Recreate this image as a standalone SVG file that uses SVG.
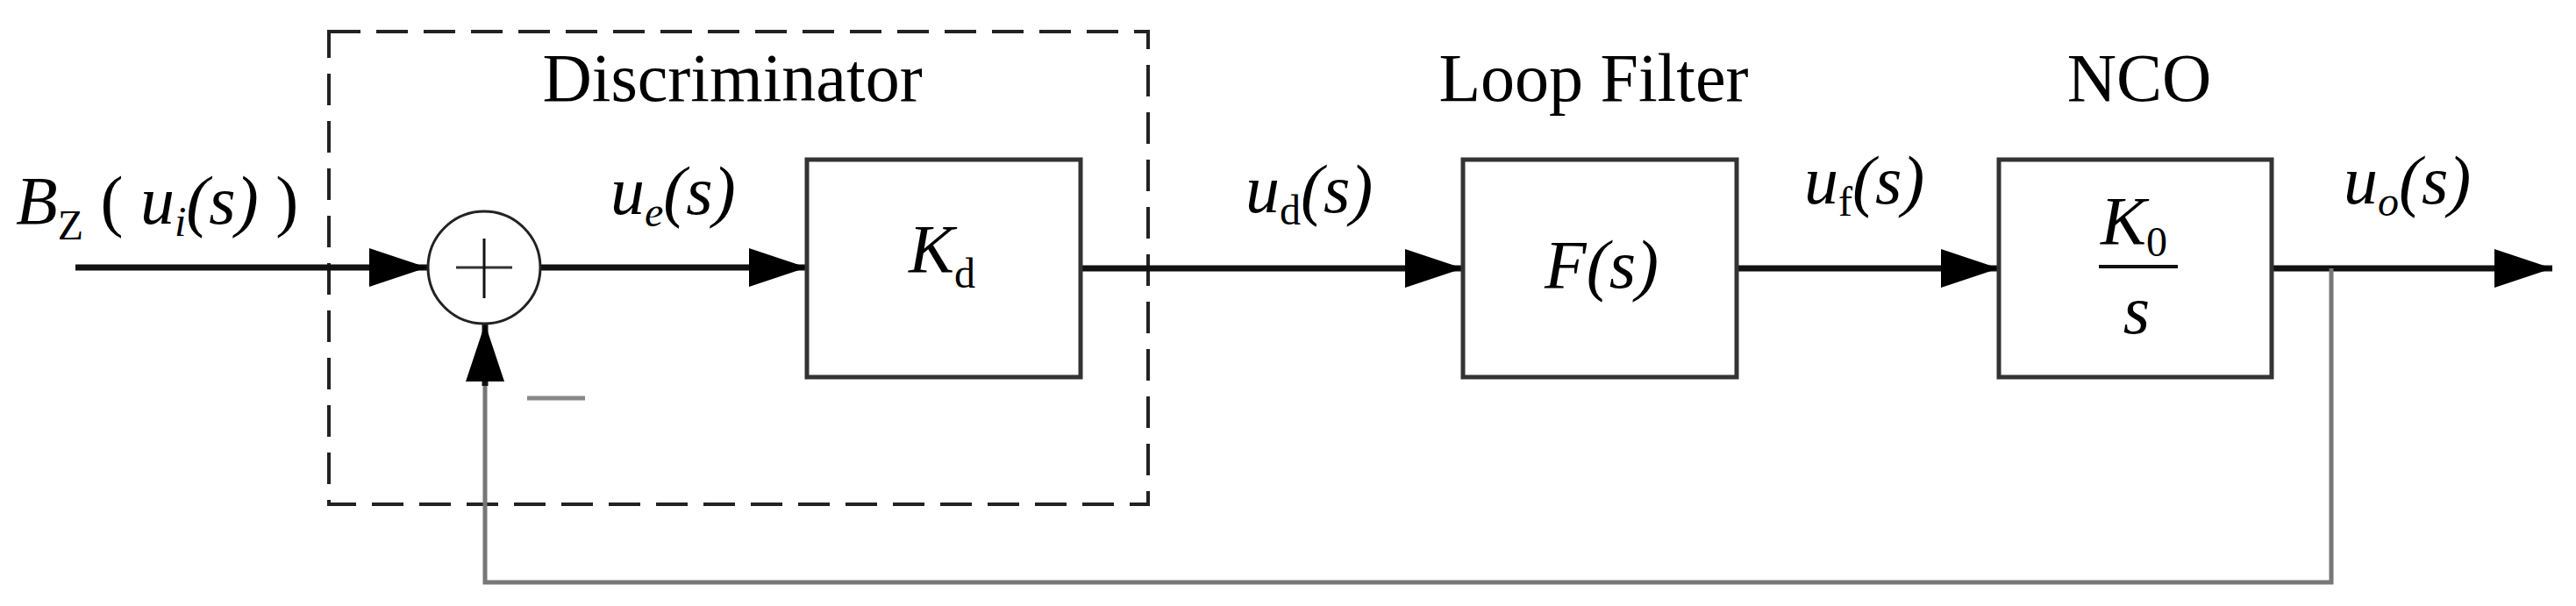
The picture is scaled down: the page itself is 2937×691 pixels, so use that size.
<svg xmlns="http://www.w3.org/2000/svg" width="2937" height="691" viewBox="0 0 2937 691">
<style>
.t{font-family:"Liberation Serif",serif;font-size:78px;fill:#000}
.i{font-style:italic}
.s{font-size:48px}
.box{fill:#fff;stroke:#333;stroke-width:5}
.ln{stroke:#111;stroke-width:7;fill:none}
.fb{stroke:#777;stroke-width:5;fill:none}
</style>
<defs>
<marker id="a" markerWidth="66" markerHeight="44" refX="66" refY="22" markerUnits="userSpaceOnUse" orient="auto"><path d="M0,0 L66,22 L0,44 Z" fill="#000"/></marker>
</defs>
<rect x="375" y="36" width="934" height="539" fill="none" stroke="#222" stroke-width="4" stroke-dasharray="36,18"/>
<text class="t" x="835" y="115" text-anchor="middle" font-size="72">Discriminator</text>
<text class="t" x="1817" y="115" text-anchor="middle" font-size="72">Loop Filter</text>
<text class="t" x="2439" y="115" text-anchor="middle" font-size="72">NCO</text>
<g id="connectors">
<line class="ln" x1="86" y1="305" x2="487" y2="305" marker-end="url(#a)"/>
<line class="ln" x1="616" y1="305" x2="920" y2="305" marker-end="url(#a)"/>
<line class="ln" x1="1232" y1="306" x2="1668" y2="306" marker-end="url(#a)"/>
<line class="ln" x1="1980" y1="306" x2="2279" y2="306" marker-end="url(#a)"/>
<line class="ln" x1="2590" y1="306" x2="2910" y2="306" marker-end="url(#a)"/>
<polyline class="fb" points="2658,306 2658,664 553,664 553,440"/>
<line class="ln" x1="553" y1="440" x2="553" y2="369" marker-end="url(#a)"/>
</g>
<g id="sum">
<circle cx="552" cy="305" r="64" fill="#fff" stroke="#222" stroke-width="3"/>
<line x1="520" y1="305" x2="584" y2="305" stroke="#333" stroke-width="3"/>
<line x1="552" y1="272" x2="552" y2="340" stroke="#111" stroke-width="3"/>
<line x1="601" y1="454" x2="667" y2="454" stroke="#888" stroke-width="5"/>
</g>
<g id="kd"><rect class="box" x="920" y="182" width="312" height="248"/>
<text class="t" x="1036" y="310"><tspan class="i">K</tspan><tspan class="s" dy="18">d</tspan></text></g>
<g id="fs"><rect class="box" x="1668" y="182" width="312" height="248"/>
<text class="t i" x="1826" y="328" text-anchor="middle">F(s)</text></g>
<g id="nco"><rect class="box" x="2279" y="182" width="311" height="248"/>
<text class="t" x="2395" y="278"><tspan class="i">K</tspan><tspan class="s" dy="14">0</tspan></text>
<line x1="2393" y1="304" x2="2483" y2="304" stroke="#111" stroke-width="4"/>
<text class="t i" x="2436" y="380" text-anchor="middle">s</text></g>
<g id="labels">
<text class="t" x="18" y="255"><tspan class="i">B</tspan><tspan class="s" dy="18">Z</tspan><tspan dy="-18"> ( </tspan><tspan class="i">u</tspan><tspan class="s i" dy="14">i</tspan><tspan class="i" dy="-14">(s)</tspan><tspan> )</tspan></text>
<text class="t" x="696" y="244"><tspan class="i">u</tspan><tspan class="s i" dy="14">e</tspan><tspan class="i" dy="-14">(s)</tspan></text>
<text class="t" x="1420" y="242"><tspan class="i">u</tspan><tspan class="s" dy="14">d</tspan><tspan class="i" dy="-14">(s)</tspan></text>
<text class="t" x="2057" y="232"><tspan class="i">u</tspan><tspan class="s" dy="14">f</tspan><tspan class="i" dy="-14">(s)</tspan></text>
<text class="t" x="2672" y="232"><tspan class="i">u</tspan><tspan class="s i" dy="14">o</tspan><tspan class="i" dy="-14">(s)</tspan></text>
</g>
</svg>
